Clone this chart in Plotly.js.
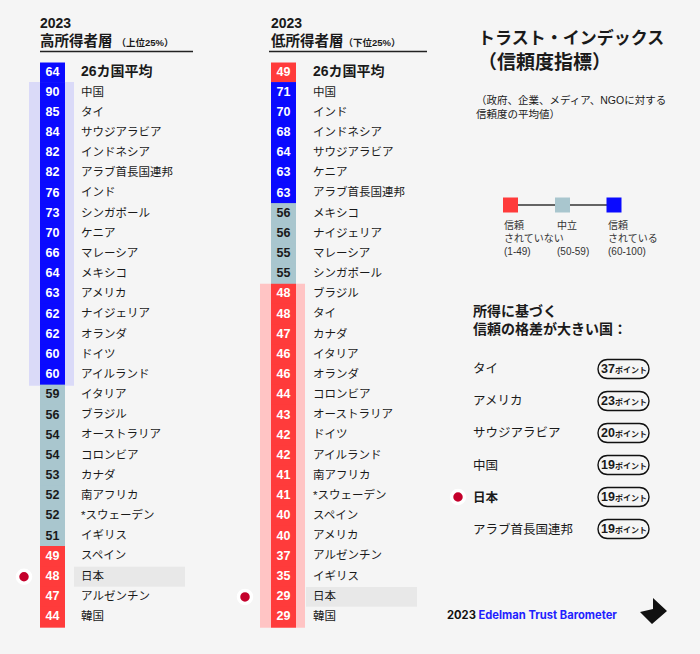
<!DOCTYPE html>
<html><head><meta charset="utf-8">
<script src="https://cdn.plot.ly/plotly-3.0.1.min.js"></script>
<style>html,body{margin:0;padding:0;background:#f5f5f5;}#chart{width:700px;height:654px;}</style>
</head><body><div id="chart"></div>
<script>
// ---------- data ----------
const highTitle = '高所得者層';
const highSub = '（上位25%）';
const highAvg = 64;
const highNames = ['中国','タイ','サウジアラビア','インドネシア','アラブ首長国連邦','インド','シンガポール','ケニア','マレーシア','メキシコ','アメリカ','ナイジェリア','オランダ','ドイツ','アイルランド','イタリア','ブラジル','オーストラリア','コロンビア','カナダ','南アフリカ','*スウェーデン','イギリス','スペイン','日本','アルゼンチン','韓国'];
const highValues = [90,85,84,82,82,76,73,70,66,64,63,62,62,60,60,59,56,54,54,53,52,52,51,49,48,47,44];

const lowTitle = '低所得者層';
const lowSub = '（下位25%）';
const lowAvg = 49;
const lowNames = ['中国','インド','インドネシア','サウジアラビア','ケニア','アラブ首長国連邦','メキシコ','ナイジェリア','マレーシア','シンガポール','ブラジル','タイ','カナダ','イタリア','オランダ','コロンビア','オーストラリア','ドイツ','アイルランド','南アフリカ','*スウェーデン','スペイン','アメリカ','アルゼンチン','イギリス','日本','韓国'];
const lowValues = [71,70,68,64,63,63,56,56,55,55,48,48,47,46,46,44,43,42,42,41,41,40,40,37,35,29,29];

const avgLabel = '26カ国平均';
const legendLabels = ['信頼<br>されていない<br>(1-49)','中立<br> <br>(50-59)','信頼<br>されている<br>(60-100)'];
const gapCountries = ['タイ','アメリカ','サウジアラビア','中国','日本','アラブ首長国連邦'];
const gapPoints = [37,23,20,19,19,19];
const highlightCountry = '日本';

// ---------- style ----------
const FONT = '"Liberation Sans", Arial, "Noto Sans CJK JP", sans-serif';
const BLUE = '#0a0aff', GREY = '#a9c6ce', RED = '#ff3b3b';
const TXT = '#1a1a1a';
const colorOf = v => v >= 60 ? BLUE : (v >= 50 ? GREY : RED);
const txtColorOf = v => (v >= 50 && v < 60) ? TXT : '#ffffff';

const traces = [];
function panel(names, values, avg, boxX, labelX, bandX, bandTest, hlX, dotX) {
  const idx = names.map((_, i) => i + 1);
  // background band
  const bIdx = idx.filter((_, i) => bandTest(values[i]));
  traces.push({type:'bar', orientation:'h', y:bIdx, x:bIdx.map(()=>45), base:bandX, width:1.05,
    marker:{color: bandTest(70) ? '#dadaf8' : '#ffc4c4', line:{width:0}}, hoverinfo:'skip'});
  // highlight row
  const hi = names.indexOf(highlightCountry) + 1;
  traces.push({type:'bar', orientation:'h', y:[hi], x:[111], base:hlX, width:0.98,
    marker:{color:'#e8e8e8', line:{width:0}}, hoverinfo:'skip'});
  // boxes
  traces.push({type:'bar', orientation:'h', y:[0].concat(idx), x:[0].concat(idx).map(()=>25), base:boxX,
    width:[0.99].concat(idx.map(()=>1.05)),
    marker:{color:[avg].concat(values).map(colorOf), line:{width:0}}, hoverinfo:'skip'});
  // numbers
  traces.push({type:'scatter', mode:'text', x:[0].concat(idx).map(()=>boxX+12.5), y:[0].concat(idx),
    text:[avg].concat(values).map(String), textposition:'middle center',
    textfont:{family:FONT, size:12.5, weight:'bold', color:[avg].concat(values).map(txtColorOf)}, hoverinfo:'skip'});
  // names
  traces.push({type:'scatter', mode:'text', x:idx.map(()=>labelX), y:idx, text:names,
    textposition:'middle right', textfont:{family:FONT, size:11.5, color:TXT}, hoverinfo:'skip'});
  traces.push({type:'scatter', mode:'text', x:[labelX], y:[0], text:[avgLabel],
    textposition:'middle right', textfont:{family:FONT, size:14, weight:'bold', color:TXT}, hoverinfo:'skip'});
  // japan dot
  traces.push({type:'scatter', mode:'markers', x:[dotX], y:[hi],
    marker:{size:13, color:'#c4002b', line:{color:'#ffffff', width:3.5}}, hoverinfo:'skip'});
}
panel(highNames, highValues, highAvg, 40, 81, 29, v => v >= 60, 74, 24);
panel(lowNames, lowValues, lowAvg, 271, 313, 260, v => v < 50, 306, 245);

// legend key
traces.push({type:'scatter', mode:'lines+markers', x:[510.5,562.5,614], y:[205,205,205], yaxis:'y2',
  line:{color:'#333', width:1.5}, marker:{symbol:'square', size:15, color:[RED,GREY,BLUE]}, hoverinfo:'skip'});
// gap list dot
traces.push({type:'scatter', mode:'markers', x:[458], y:[369 + 32*gapCountries.indexOf(highlightCountry)], yaxis:'y2',
  marker:{size:13, color:'#c4002b', line:{color:'#ffffff', width:3.5}}, hoverinfo:'skip'});

// ---------- annotations & shapes ----------
const ann = [];
function A(text, x, y, size, extra) {
  ann.push(Object.assign({text, x, y, xref:'x', yref:'y2', xanchor:'left', yanchor:'middle', showarrow:false,
    align:'left', font:{family:FONT, size, color:TXT}}, extra||{}));
}
A('<b>2023</b>', 38, 23, 14);
A('<b>'+highTitle+'</b> <span style="font-size:9.5px"><b>'+highSub+'</b></span>', 38, 41, 14.5);
A('<b>2023</b>', 269, 23, 14);
A('<b>'+lowTitle+'</b><span style="font-size:9.5px"><b>'+lowSub+'</b></span>', 269, 41, 14.5);
A('<b><span style="font-size:17px">トラスト・インデックス</span><br>（信頼度指標）</b>', 476, 50, 19);
A('（政府、企業、メディア、NGOに対する<br>信頼度の平均値）', 474, 107, 10.5);
[502, 555, 606].forEach((x, i) => A(legendLabels[i], x, 238, 10, {font:{family:FONT, size:10, color:'#333'}}));
A('<b>所得に基づく<br>信頼の格差が大きい国：</b>', 471, 320, 14);
const shapes = [];
gapCountries.forEach((c, i) => {
  const cy = 369 + 32*i;
  A(c === highlightCountry ? '<b>'+c+'</b>' : c, 471, cy, 12.5);
  const x1 = 598, x2 = 649, h = 19, r = h/2, y1 = cy - r, y2 = cy + r, k = r*4/3;
  shapes.push({type:'path', xref:'x', yref:'y2', line:{color:'#111', width:1.4}, fillcolor:'rgba(0,0,0,0)',
    path:`M${x1+r},${y1} L${x2-r},${y1} C${x2-r+k},${y1} ${x2-r+k},${y2} ${x2-r},${y2} L${x1+r},${y2} C${x1+r-k},${y2} ${x1+r-k},${y1} ${x1+r},${y1} Z`});
  ann.push({text:'<b>'+gapPoints[i]+'</b><span style="font-size:8px"><b>ポイント</b></span>', x:(x1+x2)/2, y:cy,
    xref:'x', yref:'y2', xanchor:'center', yanchor:'middle', showarrow:false, font:{family:FONT, size:12.5, color:TXT}});
});
A('<b>2023 <span style="color:#1f1fff">Edelman Trust Barometer</span></b>', 445, 615, 11.5,
  {font:{family:'Inter, "Liberation Sans", sans-serif', size:11.2, color:'#111'}});
shapes.push({type:'line', xref:'x', yref:'y2', x0:40, x1:193, y0:51.5, y1:51.5, line:{color:'#222', width:1.5}});
shapes.push({type:'line', xref:'x', yref:'y2', x0:269, x1:427, y0:51.5, y1:51.5, line:{color:'#222', width:1.5}});
shapes.push({type:'path', xref:'x', yref:'y2', line:{width:0}, fillcolor:'#111',
  path:'M653,598 L667,611 L652,624 L640,612 L653,609 Z'});

const layout = {
  width:700, height:654, margin:{l:0,r:0,t:0,b:0,pad:0},
  paper_bgcolor:'#f5f5f5', plot_bgcolor:'#f5f5f5', showlegend:false, barmode:'overlay',
  xaxis:{range:[0,700], domain:[0,1], visible:false, fixedrange:true},
  yaxis:{range:[28.83,-3.594], domain:[0,1], visible:false, fixedrange:true},
  yaxis2:{range:[654,0], overlaying:'y', visible:false, fixedrange:true},
  annotations:ann, shapes:shapes, font:{family:FONT}
};
Plotly.newPlot('chart', traces, layout, {staticPlot:true, displayModeBar:false});
</script></body></html>
